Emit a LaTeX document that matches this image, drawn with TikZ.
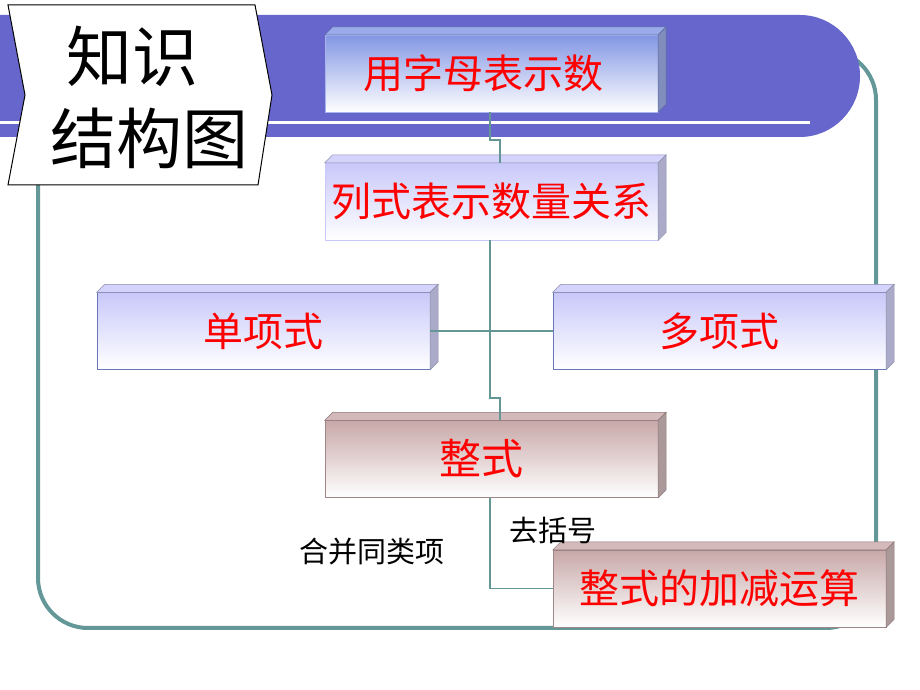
\documentclass[tikz,border=0pt]{standalone}
\usepackage{fontspec}
\newfontfamily\cjk{Noto Sans CJK SC}
\tikzset{
    box/.style={minimum width=333pt, minimum height=77pt, inner sep=0pt,
        text=red, font=\cjk\fontsize{40}{40}\selectfont, bottom color=white},
    link/.style={draw={rgb,255:red,100;green,150;blue,150}, line width=1.5pt},
    note/.style={font=\cjk\fontsize{29}{29}\selectfont}
}
\definecolor{bandc}{RGB}{102,102,204}
\definecolor{framec}{RGB}{100,152,152}
\definecolor{bluec}{RGB}{130,150,228}
\definecolor{lilac}{RGB}{200,200,250}
\definecolor{rosec}{RGB}{200,168,168}

\begin{document}
\begin{tikzpicture}[x=1pt,y=1pt]
\useasboundingbox (0,0) rectangle (920,690);

% frame and band
\draw[framec, line width=4pt, rounded corners=50pt] (38,505) |- (876,62) |- (800,640);
\fill[bandc] (0,553) -- (800,553) arc[start angle=-90, end angle=90, x radius=60, y radius=61] -- (0,675) -- cycle;
\draw[white, line width=3pt] (0,567) -- (810,567);

% title banner
\draw[fill=white, line width=1pt] (8,685) -- (255,685) -- (272,595) -- (258,505) -- (8,505) -- (25,595) -- cycle;
\node[font=\cjk\fontsize{66}{66}\selectfont] (t1) at (132,634) {知识};
\node[font=\cjk\fontsize{66}{66}\selectfont] (t2) at (149,552) {结构图};

% boxes
\node[box, top color=bluec, draw=bluec!70] (ysm) at (491.5,616.5) {\hspace*{-16pt}用字母表示数};
\node[box, top color=lilac, draw=lilac] (lsb) at (491.5,488.5) {列式表示数量关系};
\node[box, top color=lilac, draw=bluec!80!black] (dxs) at (263.5,359) {单项式};
\node[box, top color=lilac, draw=bluec!80!black] (dxs2) at (719.5,359) {多项式};
\node[box, top color=rosec, draw=rosec!80!black, font=\cjk\fontsize{42}{42}\selectfont] (zs) at (491.5,231) {\hspace*{-20pt}整式};
\node[box, top color=rosec, draw=rosec!80!black] (js) at (719.5,101.5) {整式的加减运算};

% 3d faces
\foreach \n/\c in {ysm/bluec, lsb/lilac, dxs/lilac, dxs2/lilac, zs/rosec, js/rosec}{
    \filldraw[fill=\c!80, draw=\c!70!black, line width=0.5pt] (\n.north west) -- ++(8,8)
        -- ([shift={(8,8)}]\n.north east) -- (\n.north east) -- cycle;
    \filldraw[fill=\c!60!gray, draw=\c!70!black, line width=0.5pt] (\n.north east) -- ++(8,8)
        -- ([shift={(8,8)}]\n.south east) -- (\n.south east) -- cycle;
}

% connectors
\draw[link] ([xshift=-1.5pt]ysm.south) -- ++(0,-28) -- ++(10,0) -- ([xshift=8.5pt]lsb.north);
\draw[link] ([xshift=-1.5pt]lsb.south) -- ++(0,-158) -- ++(10,0) -- ([xshift=8.5pt]zs.north);
\draw[link] (dxs.east) -- (dxs2.west);
\draw[link] ([xshift=-1.5pt]zs.south) |- (js.west);

% labels
\node[note] (qkh) at (553,160) {去括号};
\node[note] (hb) at (372,138) {合并同类项};
\end{tikzpicture}
\end{document}
